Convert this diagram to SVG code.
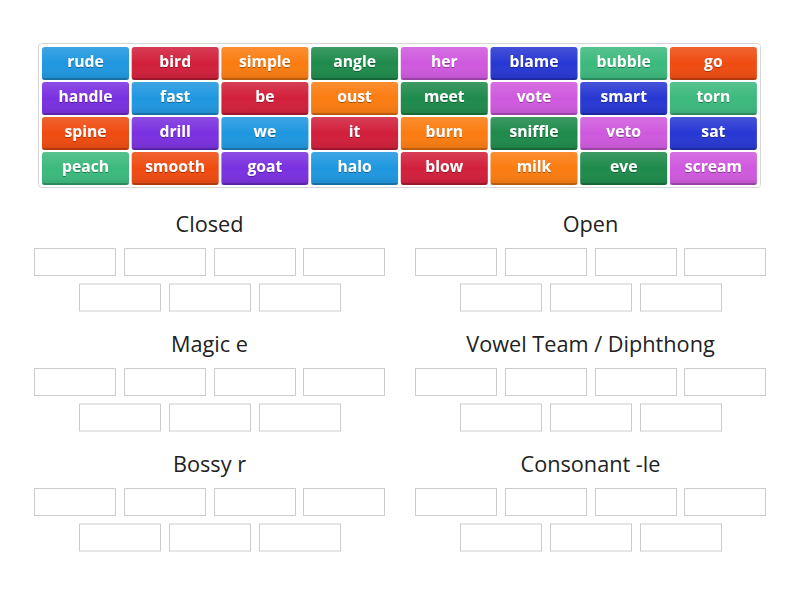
<svg xmlns="http://www.w3.org/2000/svg" width="800" height="600" viewBox="0 0 800 600">
<defs>
<linearGradient id="shade" x1="0" y1="0" x2="0" y2="1">
<stop offset="0" stop-color="#ffffff" stop-opacity="0.14"/>
<stop offset="0.5" stop-color="#ffffff" stop-opacity="0"/>
<stop offset="1" stop-color="#000000" stop-opacity="0.10"/>
</linearGradient>
<filter id="ts" x="-10%" y="-20%" width="120%" height="150%">
<feDropShadow dx="0" dy="1" stdDeviation="0.5" flood-color="#000" flood-opacity="0.35"/>
</filter>
</defs>
<style>
.bg{fill:#ffffff}
.panel{fill:#ffffff;stroke:#d6d6d6;stroke-width:1}
.tile{stroke:none}
.ov{fill:url(#shade)}
.edge{fill:#000;fill-opacity:0.18}
.tt{font-family:"Open Sans","Noto Sans","Liberation Sans",sans-serif;font-weight:bold;font-size:15.7px;fill:#ffffff;text-anchor:middle;filter:url(#ts)}
.c1{fill:#1f97e0}.c2{fill:#d21f3b}.c3{fill:#fb7c10}.c4{fill:#1e8a4b}.c5{fill:#cf59de}
.c6{fill:#2737d3}.c7{fill:#3cb97d}.c8{fill:#ef4b10}.c9{fill:#7a30e0}
.box{fill:#ffffff;stroke:#cccccc;stroke-width:1}
.title{font-family:"Open Sans","Noto Sans","Liberation Sans",sans-serif;font-size:21.7px;fill:#222222;text-anchor:middle}
</style>
<rect class="bg" x="0" y="0" width="800" height="600"/>
<rect class="panel" x="38.5" y="43.5" width="722" height="144" rx="3"/>
<g id="tiles">
<g id="t-rude"><rect class="tile c1" x="42" y="47" width="87" height="33" rx="3"/><rect class="ov" x="42" y="47" width="87" height="33" rx="3"/><rect class="edge" x="42" y="78" width="87" height="2" rx="1"/><text class="tt" x="85.5" y="67">rude</text></g>
<g id="t-bird"><rect class="tile c2" x="131.7" y="47" width="87" height="33" rx="3"/><rect class="ov" x="131.7" y="47" width="87" height="33" rx="3"/><rect class="edge" x="131.7" y="78" width="87" height="2" rx="1"/><text class="tt" x="175.2" y="67">bird</text></g>
<g id="t-simple"><rect class="tile c3" x="221.4" y="47" width="87" height="33" rx="3"/><rect class="ov" x="221.4" y="47" width="87" height="33" rx="3"/><rect class="edge" x="221.4" y="78" width="87" height="2" rx="1"/><text class="tt" x="264.9" y="67">simple</text></g>
<g id="t-angle"><rect class="tile c4" x="311.1" y="47" width="87" height="33" rx="3"/><rect class="ov" x="311.1" y="47" width="87" height="33" rx="3"/><rect class="edge" x="311.1" y="78" width="87" height="2" rx="1"/><text class="tt" x="354.6" y="67">angle</text></g>
<g id="t-her"><rect class="tile c5" x="400.8" y="47" width="87" height="33" rx="3"/><rect class="ov" x="400.8" y="47" width="87" height="33" rx="3"/><rect class="edge" x="400.8" y="78" width="87" height="2" rx="1"/><text class="tt" x="444.3" y="67">her</text></g>
<g id="t-blame"><rect class="tile c6" x="490.5" y="47" width="87" height="33" rx="3"/><rect class="ov" x="490.5" y="47" width="87" height="33" rx="3"/><rect class="edge" x="490.5" y="78" width="87" height="2" rx="1"/><text class="tt" x="534" y="67">blame</text></g>
<g id="t-bubble"><rect class="tile c7" x="580.2" y="47" width="87" height="33" rx="3"/><rect class="ov" x="580.2" y="47" width="87" height="33" rx="3"/><rect class="edge" x="580.2" y="78" width="87" height="2" rx="1"/><text class="tt" x="623.7" y="67">bubble</text></g>
<g id="t-go"><rect class="tile c8" x="669.9" y="47" width="87" height="33" rx="3"/><rect class="ov" x="669.9" y="47" width="87" height="33" rx="3"/><rect class="edge" x="669.9" y="78" width="87" height="2" rx="1"/><text class="tt" x="713.4" y="67">go</text></g>

<g id="t-handle"><rect class="tile c9" x="42" y="82" width="87" height="33" rx="3"/><rect class="ov" x="42" y="82" width="87" height="33" rx="3"/><rect class="edge" x="42" y="113" width="87" height="2" rx="1"/><text class="tt" x="85.5" y="102">handle</text></g>
<g id="t-fast"><rect class="tile c1" x="131.7" y="82" width="87" height="33" rx="3"/><rect class="ov" x="131.7" y="82" width="87" height="33" rx="3"/><rect class="edge" x="131.7" y="113" width="87" height="2" rx="1"/><text class="tt" x="175.2" y="102">fast</text></g>
<g id="t-be"><rect class="tile c2" x="221.4" y="82" width="87" height="33" rx="3"/><rect class="ov" x="221.4" y="82" width="87" height="33" rx="3"/><rect class="edge" x="221.4" y="113" width="87" height="2" rx="1"/><text class="tt" x="264.9" y="102">be</text></g>
<g id="t-oust"><rect class="tile c3" x="311.1" y="82" width="87" height="33" rx="3"/><rect class="ov" x="311.1" y="82" width="87" height="33" rx="3"/><rect class="edge" x="311.1" y="113" width="87" height="2" rx="1"/><text class="tt" x="354.6" y="102">oust</text></g>
<g id="t-meet"><rect class="tile c4" x="400.8" y="82" width="87" height="33" rx="3"/><rect class="ov" x="400.8" y="82" width="87" height="33" rx="3"/><rect class="edge" x="400.8" y="113" width="87" height="2" rx="1"/><text class="tt" x="444.3" y="102">meet</text></g>
<g id="t-vote"><rect class="tile c5" x="490.5" y="82" width="87" height="33" rx="3"/><rect class="ov" x="490.5" y="82" width="87" height="33" rx="3"/><rect class="edge" x="490.5" y="113" width="87" height="2" rx="1"/><text class="tt" x="534" y="102">vote</text></g>
<g id="t-smart"><rect class="tile c6" x="580.2" y="82" width="87" height="33" rx="3"/><rect class="ov" x="580.2" y="82" width="87" height="33" rx="3"/><rect class="edge" x="580.2" y="113" width="87" height="2" rx="1"/><text class="tt" x="623.7" y="102">smart</text></g>
<g id="t-torn"><rect class="tile c7" x="669.9" y="82" width="87" height="33" rx="3"/><rect class="ov" x="669.9" y="82" width="87" height="33" rx="3"/><rect class="edge" x="669.9" y="113" width="87" height="2" rx="1"/><text class="tt" x="713.4" y="102">torn</text></g>

<g id="t-spine"><rect class="tile c8" x="42" y="117" width="87" height="33" rx="3"/><rect class="ov" x="42" y="117" width="87" height="33" rx="3"/><rect class="edge" x="42" y="148" width="87" height="2" rx="1"/><text class="tt" x="85.5" y="137">spine</text></g>
<g id="t-drill"><rect class="tile c9" x="131.7" y="117" width="87" height="33" rx="3"/><rect class="ov" x="131.7" y="117" width="87" height="33" rx="3"/><rect class="edge" x="131.7" y="148" width="87" height="2" rx="1"/><text class="tt" x="175.2" y="137">drill</text></g>
<g id="t-we"><rect class="tile c1" x="221.4" y="117" width="87" height="33" rx="3"/><rect class="ov" x="221.4" y="117" width="87" height="33" rx="3"/><rect class="edge" x="221.4" y="148" width="87" height="2" rx="1"/><text class="tt" x="264.9" y="137">we</text></g>
<g id="t-it"><rect class="tile c2" x="311.1" y="117" width="87" height="33" rx="3"/><rect class="ov" x="311.1" y="117" width="87" height="33" rx="3"/><rect class="edge" x="311.1" y="148" width="87" height="2" rx="1"/><text class="tt" x="354.6" y="137">it</text></g>
<g id="t-burn"><rect class="tile c3" x="400.8" y="117" width="87" height="33" rx="3"/><rect class="ov" x="400.8" y="117" width="87" height="33" rx="3"/><rect class="edge" x="400.8" y="148" width="87" height="2" rx="1"/><text class="tt" x="444.3" y="137">burn</text></g>
<g id="t-sniffle"><rect class="tile c4" x="490.5" y="117" width="87" height="33" rx="3"/><rect class="ov" x="490.5" y="117" width="87" height="33" rx="3"/><rect class="edge" x="490.5" y="148" width="87" height="2" rx="1"/><text class="tt" x="534" y="137">sniffle</text></g>
<g id="t-veto"><rect class="tile c5" x="580.2" y="117" width="87" height="33" rx="3"/><rect class="ov" x="580.2" y="117" width="87" height="33" rx="3"/><rect class="edge" x="580.2" y="148" width="87" height="2" rx="1"/><text class="tt" x="623.7" y="137">veto</text></g>
<g id="t-sat"><rect class="tile c6" x="669.9" y="117" width="87" height="33" rx="3"/><rect class="ov" x="669.9" y="117" width="87" height="33" rx="3"/><rect class="edge" x="669.9" y="148" width="87" height="2" rx="1"/><text class="tt" x="713.4" y="137">sat</text></g>

<g id="t-peach"><rect class="tile c7" x="42" y="152" width="87" height="33" rx="3"/><rect class="ov" x="42" y="152" width="87" height="33" rx="3"/><rect class="edge" x="42" y="183" width="87" height="2" rx="1"/><text class="tt" x="85.5" y="172">peach</text></g>
<g id="t-smooth"><rect class="tile c8" x="131.7" y="152" width="87" height="33" rx="3"/><rect class="ov" x="131.7" y="152" width="87" height="33" rx="3"/><rect class="edge" x="131.7" y="183" width="87" height="2" rx="1"/><text class="tt" x="175.2" y="172">smooth</text></g>
<g id="t-goat"><rect class="tile c9" x="221.4" y="152" width="87" height="33" rx="3"/><rect class="ov" x="221.4" y="152" width="87" height="33" rx="3"/><rect class="edge" x="221.4" y="183" width="87" height="2" rx="1"/><text class="tt" x="264.9" y="172">goat</text></g>
<g id="t-halo"><rect class="tile c1" x="311.1" y="152" width="87" height="33" rx="3"/><rect class="ov" x="311.1" y="152" width="87" height="33" rx="3"/><rect class="edge" x="311.1" y="183" width="87" height="2" rx="1"/><text class="tt" x="354.6" y="172">halo</text></g>
<g id="t-blow"><rect class="tile c2" x="400.8" y="152" width="87" height="33" rx="3"/><rect class="ov" x="400.8" y="152" width="87" height="33" rx="3"/><rect class="edge" x="400.8" y="183" width="87" height="2" rx="1"/><text class="tt" x="444.3" y="172">blow</text></g>
<g id="t-milk"><rect class="tile c3" x="490.5" y="152" width="87" height="33" rx="3"/><rect class="ov" x="490.5" y="152" width="87" height="33" rx="3"/><rect class="edge" x="490.5" y="183" width="87" height="2" rx="1"/><text class="tt" x="534" y="172">milk</text></g>
<g id="t-eve"><rect class="tile c4" x="580.2" y="152" width="87" height="33" rx="3"/><rect class="ov" x="580.2" y="152" width="87" height="33" rx="3"/><rect class="edge" x="580.2" y="183" width="87" height="2" rx="1"/><text class="tt" x="623.7" y="172">eve</text></g>
<g id="t-scream"><rect class="tile c5" x="669.9" y="152" width="87" height="33" rx="3"/><rect class="ov" x="669.9" y="152" width="87" height="33" rx="3"/><rect class="edge" x="669.9" y="183" width="87" height="2" rx="1"/><text class="tt" x="713.4" y="172">scream</text></g>
</g>
<g id="connectors"/>
<g id="g-closed">
<text class="title" x="209.5" y="231.5">Closed</text>
<rect class="box" x="34.5" y="248.5" width="81" height="27"/><rect class="box" x="124.5" y="248.5" width="81" height="27"/><rect class="box" x="214.5" y="248.5" width="81" height="27"/><rect class="box" x="303.5" y="248.5" width="81" height="27"/>
<rect class="box" x="79.5" y="284" width="81" height="27"/><rect class="box" x="169.5" y="284" width="81" height="27"/><rect class="box" x="259.5" y="284" width="81" height="27"/>
</g>
<g id="g-open">
<text class="title" x="590.5" y="231.5">Open</text>
<rect class="box" x="415.5" y="248.5" width="81" height="27"/><rect class="box" x="505.5" y="248.5" width="81" height="27"/><rect class="box" x="595.5" y="248.5" width="81" height="27"/><rect class="box" x="684.5" y="248.5" width="81" height="27"/>
<rect class="box" x="460.5" y="284" width="81" height="27"/><rect class="box" x="550.5" y="284" width="81" height="27"/><rect class="box" x="640.5" y="284" width="81" height="27"/>
</g>
<g id="g-magic">
<text class="title" x="209.5" y="351.5">Magic e</text>
<rect class="box" x="34.5" y="368.5" width="81" height="27"/><rect class="box" x="124.5" y="368.5" width="81" height="27"/><rect class="box" x="214.5" y="368.5" width="81" height="27"/><rect class="box" x="303.5" y="368.5" width="81" height="27"/>
<rect class="box" x="79.5" y="404" width="81" height="27"/><rect class="box" x="169.5" y="404" width="81" height="27"/><rect class="box" x="259.5" y="404" width="81" height="27"/>
</g>
<g id="g-vowel">
<text class="title" x="590.5" y="351.5">Vowel Team / Diphthong</text>
<rect class="box" x="415.5" y="368.5" width="81" height="27"/><rect class="box" x="505.5" y="368.5" width="81" height="27"/><rect class="box" x="595.5" y="368.5" width="81" height="27"/><rect class="box" x="684.5" y="368.5" width="81" height="27"/>
<rect class="box" x="460.5" y="404" width="81" height="27"/><rect class="box" x="550.5" y="404" width="81" height="27"/><rect class="box" x="640.5" y="404" width="81" height="27"/>
</g>
<g id="g-bossy">
<text class="title" x="209.5" y="471.5">Bossy r</text>
<rect class="box" x="34.5" y="488.5" width="81" height="27"/><rect class="box" x="124.5" y="488.5" width="81" height="27"/><rect class="box" x="214.5" y="488.5" width="81" height="27"/><rect class="box" x="303.5" y="488.5" width="81" height="27"/>
<rect class="box" x="79.5" y="524" width="81" height="27"/><rect class="box" x="169.5" y="524" width="81" height="27"/><rect class="box" x="259.5" y="524" width="81" height="27"/>
</g>
<g id="g-cle">
<text class="title" x="590.5" y="471.5">Consonant -le</text>
<rect class="box" x="415.5" y="488.5" width="81" height="27"/><rect class="box" x="505.5" y="488.5" width="81" height="27"/><rect class="box" x="595.5" y="488.5" width="81" height="27"/><rect class="box" x="684.5" y="488.5" width="81" height="27"/>
<rect class="box" x="460.5" y="524" width="81" height="27"/><rect class="box" x="550.5" y="524" width="81" height="27"/><rect class="box" x="640.5" y="524" width="81" height="27"/>
</g>
</svg>
